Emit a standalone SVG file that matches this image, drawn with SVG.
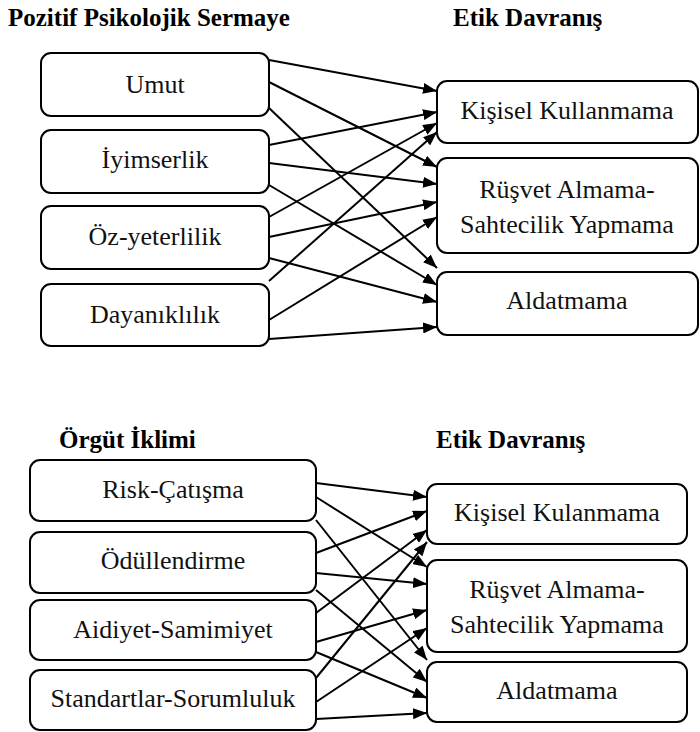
<svg xmlns="http://www.w3.org/2000/svg" width="700" height="732" viewBox="0 0 700 732">
<style>
  .box { fill: #ffffff; stroke: #000000; stroke-width: 2; }
  .c line { stroke: #000000; stroke-width: 2; marker-end: url(#arr); }
  .h { font-family: "Liberation Serif", "Times New Roman", serif; font-size: 25px; font-weight: bold; fill: #000000; }
  .t { font-family: "Liberation Serif", "Times New Roman", serif; font-size: 26px; fill: #111111; text-anchor: middle; }
</style>
<defs>
  <marker id="arr" markerUnits="userSpaceOnUse" markerWidth="14" markerHeight="11" refX="14" refY="5.5" orient="auto">
    <path d="M0,0 L14,5.5 L0,11 z" fill="#000000"/>
  </marker>
</defs>
<rect width="700" height="732" fill="#ffffff"/>

<text class="h" x="8" y="26">Pozitif Psikolojik Sermaye</text>
<text class="h" x="453" y="26">Etik Davranış</text>
<text class="h" x="59" y="448">Örgüt İklimi</text>
<text class="h" x="436" y="448">Etik Davranış</text>

<g id="connectors-top" class="c">
  <line x1="269" y1="60" x2="437" y2="91"/>
  <line x1="269" y1="82" x2="437" y2="167"/>
  <line x1="269" y1="108" x2="437" y2="268"/>
  <line x1="269" y1="145" x2="437" y2="112"/>
  <line x1="269" y1="163" x2="437" y2="184"/>
  <line x1="269" y1="185" x2="437" y2="285"/>
  <line x1="269" y1="217" x2="437" y2="123"/>
  <line x1="269" y1="237" x2="437" y2="202"/>
  <line x1="269" y1="258" x2="437" y2="302"/>
  <line x1="269" y1="281" x2="437" y2="132"/>
  <line x1="269" y1="320" x2="437" y2="217"/>
  <line x1="269" y1="339" x2="437" y2="327"/>
</g>

<g id="connectors-bottom" class="c">
  <line x1="316" y1="483" x2="427" y2="497"/>
  <line x1="316" y1="497" x2="427" y2="567"/>
  <line x1="316" y1="520" x2="427" y2="660"/>
  <line x1="316" y1="553" x2="427" y2="511"/>
  <line x1="316" y1="573" x2="427" y2="584"/>
  <line x1="316" y1="590" x2="427" y2="682"/>
  <line x1="316" y1="613" x2="427" y2="530"/>
  <line x1="316" y1="642" x2="427" y2="610"/>
  <line x1="316" y1="652" x2="427" y2="698"/>
  <line x1="316" y1="678" x2="427" y2="542"/>
  <line x1="316" y1="702" x2="427" y2="628"/>
  <line x1="316" y1="719" x2="427" y2="713"/>
</g>

<g id="umut"><rect class="box" x="41" y="53" width="228" height="63" rx="10"/><text class="t" x="155" y="93">Umut</text></g>
<g id="iyimserlik"><rect class="box" x="41" y="130" width="228" height="63" rx="10"/><text class="t" x="155" y="168">İyimserlik</text></g>
<g id="oz-yeterlilik"><rect class="box" x="41" y="206" width="228" height="63" rx="10"/><text class="t" x="155" y="245">Öz-yeterlilik</text></g>
<g id="dayaniklilik"><rect class="box" x="41" y="284" width="228" height="62" rx="10"/><text class="t" x="155" y="323">Dayanıklılık</text></g>

<g id="kisisel-1"><rect class="box" x="437" y="81" width="261" height="62" rx="10"/><text class="t" x="567" y="119">Kişisel Kullanmama</text></g>
<g id="rusvet-1"><rect class="box" x="437" y="158" width="261" height="95" rx="10"/><text class="t" x="567" y="198">Rüşvet Almama-</text><text class="t" x="567" y="233">Sahtecilik Yapmama</text></g>
<g id="aldatmama-1"><rect class="box" x="437" y="272" width="261" height="63" rx="10"/><text class="t" x="567" y="309">Aldatmama</text></g>

<g id="risk"><rect class="box" x="30" y="460" width="286" height="61" rx="10"/><text class="t" x="173" y="498">Risk-Çatışma</text></g>
<g id="odullendirme"><rect class="box" x="30" y="532" width="286" height="61" rx="10"/><text class="t" x="173" y="569">Ödüllendirme</text></g>
<g id="aidiyet"><rect class="box" x="30" y="600" width="286" height="60" rx="10"/><text class="t" x="173" y="638">Aidiyet-Samimiyet</text></g>
<g id="standartlar"><rect class="box" x="30" y="670" width="286" height="60" rx="10"/><text class="t" x="173" y="707">Standartlar-Sorumluluk</text></g>

<g id="kisisel-2"><rect class="box" x="427" y="484" width="260" height="60" rx="10"/><text class="t" x="557" y="521">Kişisel Kulanmama</text></g>
<g id="rusvet-2"><rect class="box" x="427" y="560" width="260" height="92" rx="10"/><text class="t" x="557" y="598">Rüşvet Almama-</text><text class="t" x="557" y="633">Sahtecilik Yapmama</text></g>
<g id="aldatmama-2"><rect class="box" x="427" y="662" width="260" height="60" rx="10"/><text class="t" x="557" y="699">Aldatmama</text></g>
</svg>
